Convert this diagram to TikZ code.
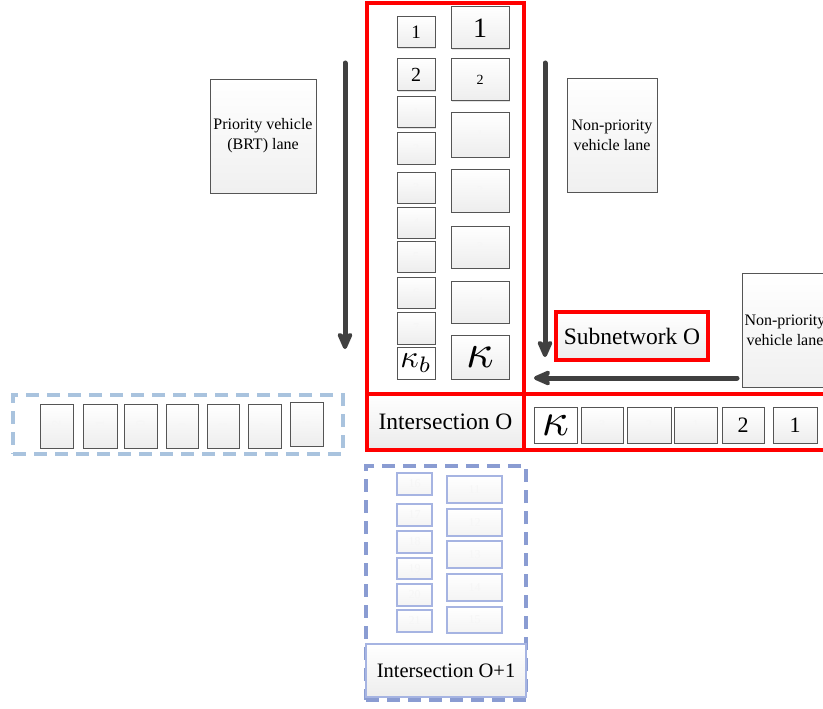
\documentclass[tikz,border=0pt]{standalone}
\usepackage{fontspec}
\setmainfont{Liberation Serif}
\usetikzlibrary{arrows.meta,shadows}
\definecolor{arr}{HTML}{404040}
\definecolor{dashl}{HTML}{A9C3DE}
\definecolor{dashb}{HTML}{8A9CD2}
\definecolor{bluebox}{HTML}{A6B4E2}
\definecolor{boxedge}{HTML}{555555}
\definecolor{faint}{HTML}{F6F6F6}
\newcommand\bx[7][]{\node[#1,minimum width={(#5-#3)*1pt},minimum height={(#6-#4)*1pt}] (#2) at ({(#3+#5)/2},{(#4+#6)/2}) {#7};}
\tikzset{
  base/.style={rectangle,inner sep=0pt,outer sep=0pt,align=center},
  shad/.style={drop shadow={opacity=0.22,shadow xshift=1.3pt,shadow yshift=-1.3pt}},
  car/.style={base,shad,draw=boxedge,line width=1pt,top color=white,bottom color=gray!14},
  bcar/.style={base,draw=bluebox,line width=1.1pt,top color=white,bottom color=gray!9,text=faint,font=\fontsize{12}{12}\selectfont},
  lane/.style={base,shad,draw=boxedge,line width=0.9pt,top color=white,bottom color=gray!12,font=\fontsize{16}{20}\selectfont},
  redbox/.style={base,draw=red,line width=3.2pt},
  interbox/.style={base,draw=red,line width=3.2pt,top color=white,bottom color=gray!16,font=\fontsize{23.5}{26}\selectfont},
  dashreg/.style={base,line width=3.6pt,dash pattern=on 13pt off 8pt},
  flow/.style={draw=arr,line width=5pt,line cap=round,-{Stealth[length=22pt,width=19pt,inset=6pt,round]}},
  fnum/.style={text=faint,font=\fontsize{12}{12}\selectfont},
}
\begin{document}
\begin{tikzpicture}[x=1pt,y=-1pt]
\path[use as bounding box] (0,0) rectangle (823,709);
\clip (0,0) rectangle (823,709);
% regions
\bx[redbox]{sub}{367}{3}{524}{394}{}
\bx[dashreg,draw=dashl]{leftreg}{13}{395}{343}{454}{}
\bx[dashreg,draw=dashb]{lowreg}{366}{466}{526}{700}{}
% lane labels
\bx[lane]{prio}{210}{79}{316}{193}{Priority vehicle\\(BRT) lane}
\bx[lane]{nonp}{567}{78}{657}{192}{Non-priority\\vehicle lane}
\bx[lane]{nonr}{742}{273}{828}{387}{Non-priority\\vehicle lane}
% top left column (BRT)
\bx[car,font=\fontsize{19}{19}\selectfont]{l1}{397}{17}{435}{48}{1}
\bx[car,font=\fontsize{20}{20}\selectfont]{l2}{397}{59}{435}{91}{2}
\bx[car,fnum]{l3}{397}{97}{435}{128}{1}
\bx[car,fnum]{l4}{397}{133}{435}{164}{2}
\bx[car,fnum]{l5}{397}{172}{435}{203}{3}
\bx[car,fnum]{l6}{397}{207}{435}{238}{4}
\bx[car,fnum]{l7}{397}{241}{435}{272}{5}
\bx[car,fnum]{l8}{397}{277}{435}{308}{6}
\bx[car,fnum]{l9}{397}{312}{435}{344}{7}
\bx[car,top color=white,bottom color=white]{lk}{397}{347}{435}{379}{\scalebox{3.2}{$\kappa_b$}}
% top right column
\bx[car,font=\fontsize{28}{28}\selectfont]{r1}{451}{7}{509}{49}{1}
\bx[car,font=\fontsize{14}{14}\selectfont]{r2}{451}{59}{509}{101}{2}
\bx[car,fnum]{r3}{451}{113}{509}{157}{1}
\bx[car,fnum]{r4}{451}{169}{509}{212}{2}
\bx[car,fnum]{r5}{451}{226}{509}{268}{3}
\bx[car,fnum]{r6}{451}{281}{509}{323}{4}
\bx[car]{rk}{451}{335}{509}{379}{\scalebox{4.8}{$\kappa$}}
% intersection O and right road
\bx[interbox]{inter}{367}{394}{524}{450}{Intersection O}
\bx[redbox]{road}{524}{394}{840}{450}{}
\bx[car,top color=white,bottom color=white]{k1}{534}{407}{577}{443}{\scalebox{4.7}{$\kappa$}}
\bx[car,fnum]{k2}{581}{407}{623}{443}{3}
\bx[car,fnum]{k3}{627}{407}{671}{443}{2}
\bx[car,fnum]{k4}{674}{407}{717}{443}{1}
\bx[car,font=\fontsize{22}{22}\selectfont]{k5}{722}{407}{764}{443}{2}
\bx[car,font=\fontsize{22}{22}\selectfont]{k6}{773}{407}{817}{443}{1}
% subnetwork label
\bx[base,shad,draw=red,line width=3.2pt,top color=white,bottom color=gray!14,font=\fontsize{23.5}{26}\selectfont]{subn}{556}{312}{708}{360}{Subnetwork O}
% left road (next subnetwork)
\bx[car,fnum]{w1}{40}{404}{73}{448}{\rotatebox{90}{12}}
\bx[car,fnum]{w2}{83}{404}{117}{448}{\rotatebox{90}{11}}
\bx[car,fnum]{w3}{124}{404}{157}{448}{\rotatebox{90}{10}}
\bx[car,fnum]{w4}{166}{404}{198}{448}{\rotatebox{90}{9}}
\bx[car,fnum]{w5}{207}{404}{239}{448}{\rotatebox{90}{8}}
\bx[car,fnum]{w6}{248}{404}{281}{448}{\rotatebox{90}{7}}
\bx[car,fnum]{w7}{290}{402}{323}{446}{\rotatebox{90}{6}}
% lower intersection O+1
\bx[bcar]{b16}{397}{473}{432}{495}{16}
\bx[bcar]{b17}{397}{504}{432}{526}{17}
\bx[bcar]{b18}{397}{531}{432}{553}{18}
\bx[bcar]{b19}{397}{558}{432}{579}{19}
\bx[bcar]{b20}{397}{584}{432}{606}{20}
\bx[bcar]{b21}{397}{610}{432}{632}{21}
\bx[bcar]{b11}{447}{476}{502}{503}{11}
\bx[bcar]{b12}{447}{509}{502}{536}{12}
\bx[bcar]{b13}{447}{541}{502}{568}{13}
\bx[bcar]{b14}{447}{574}{502}{601}{14}
\bx[bcar]{b15}{447}{607}{502}{633}{15}
\bx[base,draw=bluebox,line width=1.1pt,top color=white,bottom color=gray!14,font=\fontsize{20.5}{24}\selectfont]{inter1}{366}{644}{526}{697}{Intersection O+1}
% flow arrows
\coordinate (a1s) at (345,63);
\coordinate (a1e) at (345,349);
\coordinate (a2s) at (545,63);
\coordinate (a2e) at (545,357);
\coordinate (a3s) at (737,378);
\coordinate (a3e) at (534,378);
\draw[flow] (a1s) -- (a1e);
\draw[flow] (a2s) -- (a2e);
\draw[flow] (a3s) -- (a3e);
\end{tikzpicture}
\end{document}
